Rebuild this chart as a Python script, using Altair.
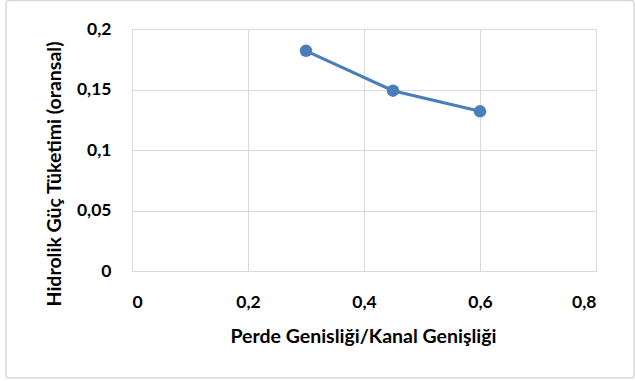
import altair as alt
import pandas as pd

# Screen width ratio vs. relative hydraulic power consumption
ratio = [0.3, 0.45, 0.6]
power = [0.182, 0.149, 0.132]

x_ticks = [0, 0.2, 0.4, 0.6, 0.8]
y_ticks = [0, 0.05, 0.1, 0.15, 0.2]

x_title = "Perde Genisliği/Kanal Genişliği"
y_title = "Hidrolik Güç Tüketimi (oransal)"

df = pd.DataFrame({"ratio": ratio, "power": power})

FONT = "Lato"
BLUE = "#4a7ebb"
GRID = "#d9d9d9"

label_expr = "replace(format(datum.value, '~g'), '.', ',')"

x_enc = alt.X(
    "ratio:Q",
    scale=alt.Scale(domain=[0, 0.8], nice=False),
    axis=alt.Axis(
        values=x_ticks,
        labelExpr=label_expr,
        title=x_title,
        ticks=False,
        labelPadding=36,
        labelBaseline="alphabetic",
        titleX=231,
        titleY=71,
        titleBaseline="alphabetic",
        titleAnchor="middle",
    ),
)
y_enc = alt.Y(
    "power:Q",
    scale=alt.Scale(domain=[0, 0.2], nice=False),
    axis=alt.Axis(
        values=y_ticks,
        labelExpr=label_expr,
        title=y_title,
        ticks=False,
        domain=False,
        labelPadding=21,
        titleX=-78,
        titleY=144.5,
        titleBaseline="middle",
        titleAngle=-90,
    ),
)

base = alt.Chart(df)
line = base.mark_line(color=BLUE, strokeWidth=3).encode(x=x_enc, y=y_enc)
points = base.mark_circle(color=BLUE, size=155, opacity=1).encode(x=x_enc, y=y_enc)

# light rounded frame around the whole chart area
frame = alt.Chart(pd.DataFrame({"k": [0]})).mark_rect(
    fill=None, stroke=GRID, strokeWidth=1.5, cornerRadius=3
).encode(
    x=alt.value(-126),
    x2=alt.value(502),
    y=alt.value(-28.5),
    y2=alt.value(349),
)

chart = (
    alt.layer(frame, line, points)
    .properties(
        width=464,
        height=242,
        autosize=alt.AutoSizeParams(type="none"),
        padding={"left": 132, "top": 29, "right": 39, "bottom": 110},
        background="white",
    )
    .configure_view(stroke=None)
    .configure_axis(
        gridColor=GRID,
        gridWidth=1,
        domainColor=GRID,
        domainWidth=1,
        labelFont=FONT,
        labelFontSize=17.5,
        labelFontWeight="bold",
        labelColor="#000000",
        titleFont=FONT,
        titleFontSize=19.5,
        titleFontWeight="bold",
        titleColor="#000000",
    )
)

chart.save("out.html", embed_options={"renderer": "svg", "actions": False})
